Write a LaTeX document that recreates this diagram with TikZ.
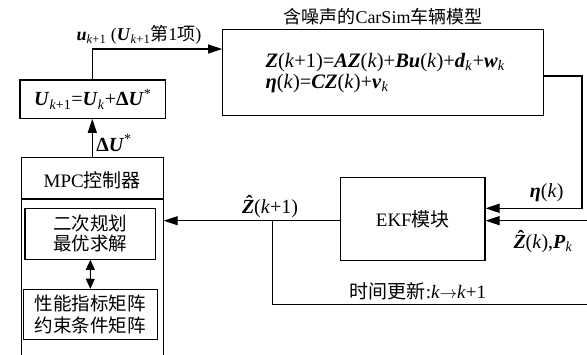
\documentclass[tikz,border=0pt]{standalone}
\usepackage{fontspec}
\setmainfont{Liberation Serif}
\newfontfamily\cjk{Noto Sans CJK SC}
\usetikzlibrary{arrows.meta}
\newcommand\bi[1]{\textbf{\textit{#1}}}
\newcommand\sbk[1]{\textsubscript{\textit{#1}}}
\newcommand\hatZ{\makebox[0pt][l]{\kern0.2em\raisebox{0.2em}{\textbf{ˆ}}}\bi{Z}}
\begin{document}
\begin{tikzpicture}[x=1pt,y=-1pt, line width=1.1pt,
  font=\fontsize{18}{22}\selectfont,
  mfont/.style={font=\fontsize{20}{22}\selectfont},
  arr/.style={-{Triangle[length=14pt,width=9pt]}},
  darr/.style={{Triangle[length=10pt,width=9pt]}-{Triangle[length=10pt,width=9pt]}},
  box/.style={draw, rectangle, inner sep=0pt, align=center}]
\useasboundingbox (0,0) rectangle (587,355);
% boxes
\node[box, minimum width=320.6pt, minimum height=86.4pt] (car) at (383,72.5) {};
\node[anchor=west, align=left, inner sep=0pt, font=\fontsize{20.5}{20.5}\selectfont] (eq) at (265,73)
  {\bi{Z}(\textit{k}+1)=\bi{AZ}(\textit{k})+\bi{Bu}(\textit{k})+\bi{d}\sbk{k}+\bi{w}\sbk{k}\\
   \bi{η}(\textit{k})=\bi{CZ}(\textit{k})+\bi{v}\sbk{k}};
\node (title) at (383,17) {{\cjk 含噪声的}CarSim{\cjk 车辆模型}};
\node[box, minimum width=144.3pt, minimum height=82.3pt, font=\fontsize{19}{22}\selectfont] (ekf) at (412.85,219) {EKF{\cjk 模块}};
\node[box, minimum width=145.7pt, minimum height=38.3pt, mfont] (ubox) at (92.85,99.15)
  {\bi{U}\textsubscript{\textit{k}+1}=\bi{U}\sbk{k}+\textbf{Δ}\bi{U}\textsuperscript{*}};
\node[box, minimum width=141.6pt, minimum height=210pt, anchor=north] (mpc) at (92.3,156.7) {};
\coordinate (dv) at (0,199);
\draw (mpc.west |- dv) -- (mpc.east |- dv);
\node[font=\fontsize{19}{22}\selectfont] (mpct) at (92.3,180) {MPC{\cjk 控制器}};
\node[box, minimum width=130.7pt, minimum height=51pt, font=\cjk\fontsize{18.5}{20}\selectfont] (qp) at (90.35,233.8) {二次规划\\最优求解};
\node[box, minimum width=134pt, minimum height=50pt, font=\cjk\fontsize{18.5}{22}\selectfont] (perf) at (90.3,314.3) {性能指标矩阵\\约束条件矩阵};
% connectors
\coordinate (c1) at (0,49);
\draw[arr] (ubox.north) -- (ubox.north |- c1) -- (car.west |- c1);
\draw[arr] (mpc.north) -- (mpc.north |- ubox.south);
\draw[darr] (qp.south) -- (perf.north);
\coordinate (cy) at (0,76);
\coordinate (r1) at (582,0);
\coordinate (ey1) at (0,208.3);
\draw[arr] (car.east |- cy) -| (r1 |- ey1) -- (ekf.east |- ey1);
\coordinate (rin) at (592,220.7);
\draw[arr] (rin) -- (ekf.east |- rin);
\draw[arr] (ekf.west |- rin) -- (mpc.east |- rin);
\coordinate (br) at (272.3,220.7);
\coordinate (bb) at (592,304.3);
\draw (br) |- (bb);
% labels
\node (l1) at (139,35) {\bi{u}\textsubscript{\textit{k}+1} (\bi{U}\textsubscript{\textit{k}+1}{\cjk 第}1{\cjk 项})};
\node[mfont] (l2) at (114,143) {\textbf{Δ}\bi{U}\textsuperscript{*}};
\node[mfont] (l3) at (546.7,193) {\bi{η}(\textit{k})};
\node[mfont] (l4) at (543,241.7) {\hatZ(\textit{k}),\bi{P}\sbk{k}};
\node[mfont] (l5) at (270,207) {\hatZ(\textit{k}+1)};
\node[font=\fontsize{19}{22}\selectfont] (l6) at (418,291.7) {{\cjk 时间更新}:\textit{k}$\rightarrow$\textit{k}+1};
\end{tikzpicture}
\end{document}
